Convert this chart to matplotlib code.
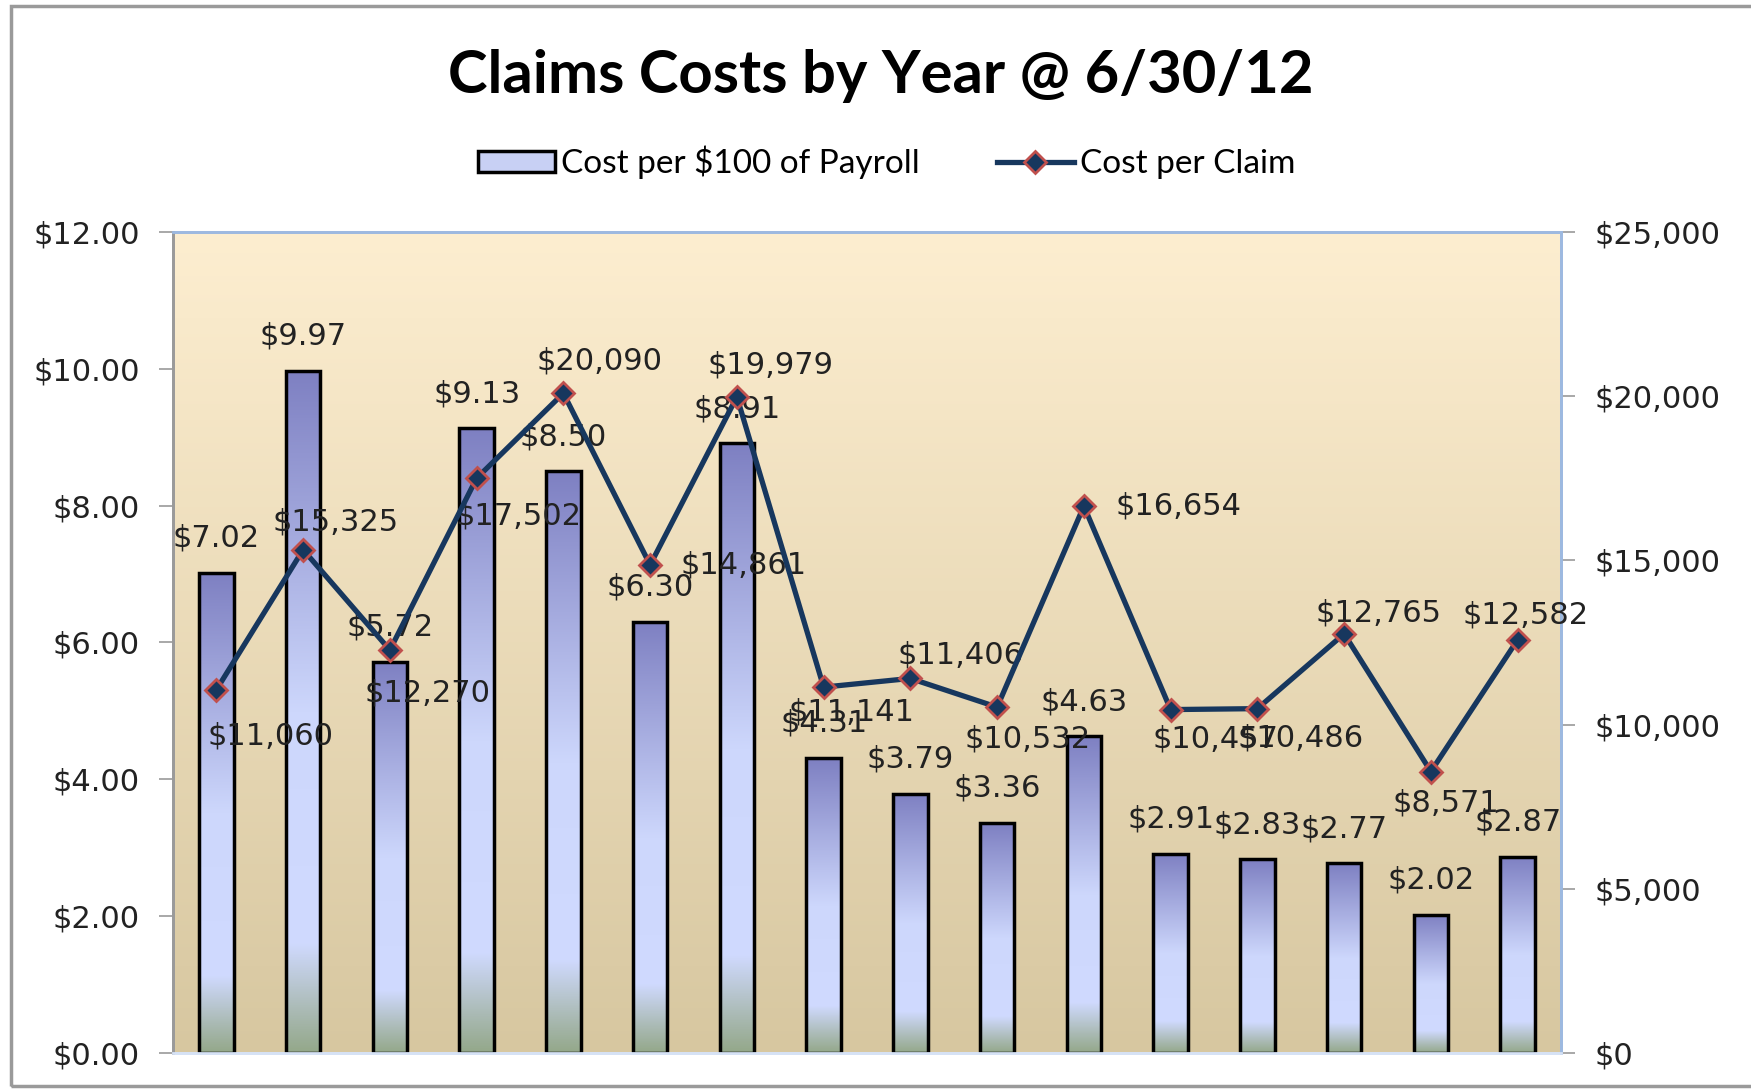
import numpy as np
import matplotlib
matplotlib.use("Agg")
from matplotlib import pyplot as plt
from matplotlib.colors import LinearSegmentedColormap
from matplotlib.patches import Rectangle

# data
payroll_cost = [7.02, 9.97, 5.72, 9.13, 8.50, 6.30, 8.91, 4.31,
                3.79, 3.36, 4.63, 2.91, 2.83, 2.77, 2.02, 2.87]
claim_cost = [11060, 15325, 12270, 17502, 20090, 14861, 19979, 11141,
              11406, 10532, 16654, 10457, 10486, 12765, 8571, 12582]
left_ticks = [0, 2, 4, 6, 8, 10, 12]
right_ticks = [0, 5000, 10000, 15000, 20000, 25000]

# label offsets (points) for the line labels
claim_offsets = [(39, -33), (23, 20), (27, -31), (30, -27), (26, 23), (67, 0),
                 (24, 23), (20, -18), (36, 17), (22, -23), (68, 0), (32, -21),
                 (31, -21), (25, 15), (11, -23), (6, 18)]

plt.rcParams['font.family'] = ['DejaVu Sans']
FS = 22

fig = plt.figure(figsize=(17.51, 10.91), dpi=100)
ax = fig.add_axes([0.0988, 0.0348, 0.7927, 0.7526])

x = np.arange(len(payroll_cost))

# background gradient of the plot area
bg = LinearSegmentedColormap.from_list('bg', ['#d7c7a0', '#fdeed0'])
ax.imshow(np.linspace(0, 1, 256).reshape(-1, 1), cmap=bg, origin='lower',
          extent=[0, 1, 0, 1], transform=ax.transAxes, aspect='auto', zorder=0)

bar_cmap = LinearSegmentedColormap.from_list('bars', [
    (0.0, (148/255, 168/255, 138/255)),
    (0.06, (170/255, 186/255, 180/255)),
    (0.16, (208/255, 218/255, 255/255)),
    (0.50, (205/255, 215/255, 252/255)),
    (1.0, (126/255, 128/255, 194/255))])

bars = ax.bar(x, payroll_cost, width=0.4, facecolor='none', edgecolor='black',
              linewidth=2.5, zorder=3)
grad = np.linspace(0, 1, 256).reshape(-1, 1)
for b in bars:
    x0, w, h = b.get_x(), b.get_width(), b.get_height()
    im = ax.imshow(grad, cmap=bar_cmap, origin='lower', aspect='auto',
                   extent=[x0, x0 + w, 0, h], zorder=2)
    im.set_clip_path(b)

for xi, v in zip(x, payroll_cost):
    ax.annotate(f'${v:.2f}', (xi, v), xytext=(0, 25), textcoords='offset points',
                ha='center', va='center', fontsize=FS, color='#222222', zorder=4)

ax.set_xlim(-0.5, len(payroll_cost) - 0.5)
ax.set_ylim(0, 12)
ax.set_yticks(left_ticks)
ax.set_yticklabels([f'${t:.2f}' for t in left_ticks])
ax.set_xticks([])
ax.tick_params(axis='y', labelsize=FS, length=10, width=1.2, color='#999999',
               pad=14, labelcolor='#222222')

ax2 = ax.twinx()
line, = ax2.plot(x, claim_cost, color='#17375e', lw=3.8, marker='D', ms=11,
                 mfc='#17375e', mec='#c0504d', mew=2.0, zorder=5)
for xi, v, (dx, dy) in zip(x, claim_cost, claim_offsets):
    ax2.annotate(f'${v:,.0f}', (xi, v), xytext=(dx, dy), textcoords='offset points',
                 ha='center', va='center', fontsize=FS, color='#222222')
ax2.set_ylim(0, 25000)
ax2.set_yticks(right_ticks)
ax2.set_yticklabels([f'${t:,.0f}' for t in right_ticks])
ax2.tick_params(axis='y', labelsize=FS, length=10, width=1.2, color='#999999',
                pad=14, labelcolor='#222222')

for a in (ax, ax2):
    a.spines['left'].set_color('#9a9a9a')
    a.spines['top'].set_color('#9db9e0')
    a.spines['right'].set_color('#9db9e0')
    a.spines['bottom'].set_color('#d6e2f5')
    for s in a.spines.values():
        s.set_linewidth(2)

# legend
leg_patch = Rectangle((0, 0), 1, 1, facecolor='#c8d0f4', edgecolor='black', linewidth=2.5)
fig.legend([leg_patch, line], ['Cost per $100 of Payroll', 'Cost per Claim'],
           loc='center', bbox_to_anchor=(0.5065, 0.851), ncol=2, frameon=False,
           prop={'family': 'Lato', 'size': 24}, handlelength=2.3, handleheight=0.6,
           columnspacing=2.3, handletextpad=0.2)

fig.text(0.503, 0.930, 'Claims Costs by Year @ 6/30/12', ha='center', va='center',
         fontsize=43, fontweight='bold', family='Lato')

# outer chart frame
fig.patches.append(Rectangle((11 / 1751, 5 / 1091), 1.0, 1 - 11 / 1091,
                             transform=fig.transFigure, fill=False,
                             edgecolor='#9a9a9a', linewidth=2.5))

fig.savefig('out.png', dpi=100)
